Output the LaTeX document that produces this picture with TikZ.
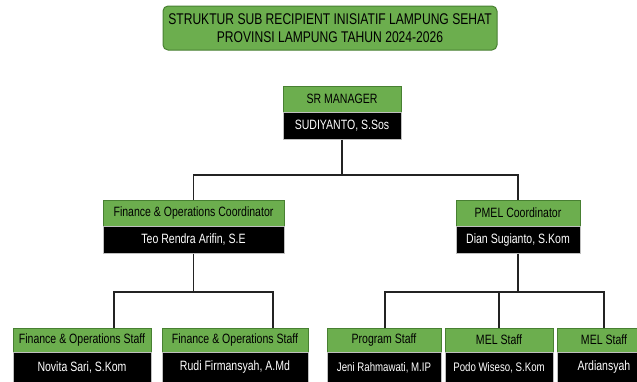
\documentclass[tikz,border=0pt]{standalone}
\usepackage{fontspec}
\setmainfont{Liberation Sans}[FakeStretch=0.78]
\usetikzlibrary{positioning}

\definecolor{rolegreen}{RGB}{108,174,78}
\definecolor{edgegreen}{RGB}{72,128,50}
\definecolor{linegray}{RGB}{35,35,35}

\tikzset{
  role/.style={draw=edgegreen, fill=rolegreen, inner sep=0pt, minimum height=26pt,
    font=\fontsize{13.5}{15}\selectfont},
  person/.style={draw=gray!50, fill=black, text=white, inner sep=0pt, minimum height=27pt,
    font=\fontsize{13.5}{15}\selectfont},
  small/.style={font=\fontsize{12.4}{14}\selectfont},
  link/.style={draw=linegray, line width=1.1pt},
}

\begin{document}
\begin{tikzpicture}[x=1pt,y=-1pt]
    \useasboundingbox (0,0) rectangle (637,381);

    \node[draw=edgegreen, fill=rolegreen, rounded corners=5pt, line width=1pt,
          minimum width=334pt, minimum height=44pt, align=center,
          font=\fontsize{15.5}{18}\selectfont] (title) at (330,28)
          {STRUKTUR SUB RECIPIENT INISIATIF LAMPUNG SEHAT\\PROVINSI LAMPUNG TAHUN 2024-2026};

    % manager
    \node[role, minimum width=118pt] (mgr) at (342,99) {SR MANAGER};
    \node[person, minimum width=118pt, below=0pt of mgr] (mgrname) {SUDIYANTO, S.Sos};

    % coordinators
    \node[role, minimum width=181pt] (fin) at (193.5,213) {Finance \& Operations Coordinator};
    \node[person, minimum width=181pt, below=0pt of fin] (finname) {Teo Rendra Arifin, S.E};
    \node[role, minimum width=124pt] (pmel) at (518,213) {PMEL Coordinator};
    \node[person, minimum width=124pt, below=0pt of pmel] (pmelname) {Dian Sugianto, S.Kom};

    % staff
    \node[role, minimum width=138pt, minimum height=24pt] (fs1) at (82,340) {Finance \& Operations Staff};
    \node[person, minimum width=138pt, minimum height=30pt, below=0pt of fs1] (fs1name) {Novita Sari, S.Kom};
    \node[role, minimum width=146pt, minimum height=24pt] (fs2) at (235,340) {Finance \& Operations Staff};
    \node[person, minimum width=146pt, minimum height=30pt, below=0pt of fs2] (fs2name) {Rudi Firmansyah, A.Md};
    \node[role, minimum width=114pt, minimum height=24pt] (prog) at (384,340) {Program Staff};
    \node[person, small, minimum width=114pt, minimum height=30pt, below=0pt of prog] (progname) {Jeni Rahmawati, M.IP};
    \node[role, minimum width=108pt, minimum height=24pt] (mel1) at (499,340) {MEL Staff};
    \node[person, small, minimum width=108pt, minimum height=30pt, below=0pt of mel1] (mel1name) {Podo Wiseso, S.Kom};
    \node[role, minimum width=94pt, minimum height=24pt] (mel2) at (604,340) {MEL Staff};
    \node[person, minimum width=94pt, minimum height=30pt, below=0pt of mel2] (mel2name) {Ardiansyah};

    % junctions
    \coordinate (top) at (342,175);
    \coordinate (finbar) at (114,292);
    \coordinate (pmelbar) at (385,292);

    \draw[link] (mgrname.south) -- (top);
    \draw[link] (fin.north) |- (top) -| (pmel.north);

    \draw[link] (finname.south) -- (finname.south |- finbar);
    \draw[link] (fs1.north -| finbar) -- (finbar) -- (finbar -| 273,0) -- (fs2.north -| 273,0);

    \draw[link] (pmelname.south) -- (pmelname.south |- pmelbar);
    \draw[link] (prog.north -| pmelbar) -- (pmelbar) -- (pmelbar -| mel2.north) -- (mel2.north);
    \draw[link] (mel1.north) -- (mel1.north |- pmelbar);
\end{tikzpicture}
\end{document}
